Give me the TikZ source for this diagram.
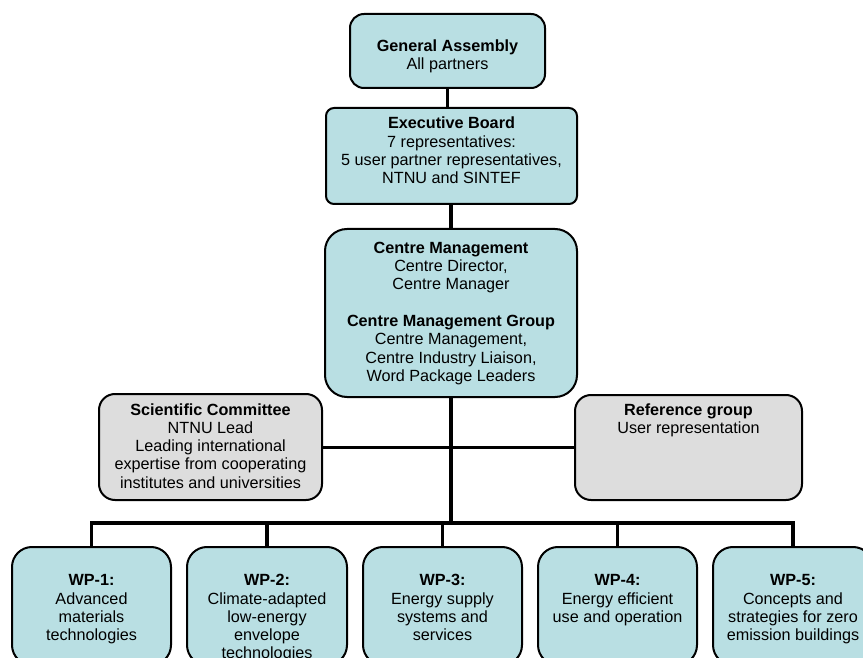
\documentclass[tikz,border=0pt]{standalone}
\usepackage{fontspec}
\setmainfont{Liberation Sans}
\usetikzlibrary{calc}
\definecolor{tealfill}{HTML}{B9DFE3}
\definecolor{greyfill}{HTML}{DDDDDD}
\newcommand{\orgtxt}[1]{\parbox[t]{240pt}{\centering\fontsize{16.2}{18.3}\selectfont #1}}
\begin{document}
\begin{tikzpicture}[x=1pt,y=-1pt,
  box/.style={draw, line width=2pt, inner sep=0pt},
  tealbox/.style={box, fill=tealfill},
  greybox/.style={box, fill=greyfill},
  wpbox/.style={tealbox, rounded corners=20pt, minimum width=159pt, minimum height=118pt},
  conn/.style={line width=3.6pt},
  txt/.style={anchor=base, inner sep=0pt}]
\useasboundingbox (0,0) rectangle (863,658);
\begin{scope}
\clip (0,0) rectangle (863,658);
% boxes
\node[tealbox, rounded corners=14pt, minimum width=195pt, minimum height=74pt] (ga) at (447.5,51) {};
\node[tealbox, rounded corners=8pt, minimum width=251pt, minimum height=96pt] (eb) at (451.5,156) {};
\node[tealbox, rounded corners=22pt, minimum width=252pt, minimum height=168pt] (cm) at (451,313) {};
\node[greybox, rounded corners=16pt, minimum width=223pt, minimum height=106pt] (sc) at (210.5,447) {};
\node[greybox, rounded corners=16pt, minimum width=227pt, minimum height=105pt] (rg) at (688.5,447.5) {};
\node[wpbox] (wp1) at (91.5,606) {};
\node[wpbox, minimum width=160pt] (wp2) at (267,606) {};
\node[wpbox] (wp3) at (442.5,606) {};
\node[wpbox] (wp4) at (617.5,606) {};
\node[wpbox, minimum width=160pt] (wp5) at (793,606) {};
% texts
\node[txt] (gat) at ($(ga.north)+(0,38.7)$) {\orgtxt{\textbf{General Assembly}\\All partners}};
\node[txt] (ebt) at ($(eb.north)+(0,22)$) {\orgtxt{\textbf{Executive Board}\\7 representatives:\\5 user partner representatives,\\NTNU and SINTEF}};
\node[txt] (cmt) at ($(cm.north)+(0,25.3)$) {\orgtxt{\textbf{Centre Management}\\Centre Director,\\Centre Manager\\[18.3pt]\textbf{Centre Management Group}\\Centre Management,\\Centre Industry Liaison,\\Word Package Leaders}};
\node[txt] (sct) at ($(sc.north)+(0,22)$) {\orgtxt{\textbf{Scientific Committee}\\NTNU Lead\\Leading international\\expertise from cooperating\\institutes and universities}};
\node[txt] (rgt) at ($(rg.north)+(0,21)$) {\orgtxt{\textbf{Reference group}\\User representation}};
\node[txt] (wp1t) at ($(wp1.north)+(0,39.7)$) {\orgtxt{\textbf{WP-1:}\\Advanced\\materials\\technologies}};
\node[txt] (wp2t) at ($(wp2.north)+(0,39.7)$) {\orgtxt{\textbf{WP-2:}\\Climate-adapted\\low-energy\\envelope\\technologies}};
\node[txt] (wp3t) at ($(wp3.north)+(0,39.7)$) {\orgtxt{\textbf{WP-3:}\\Energy supply\\systems and\\services}};
\node[txt] (wp4t) at ($(wp4.north)+(0,39.7)$) {\orgtxt{\textbf{WP-4:}\\Energy efficient\\use and operation}};
\node[txt] (wp5t) at ($(wp5.north)+(0,39.7)$) {\orgtxt{\textbf{WP-5:}\\Concepts and\\strategies for zero\\emission buildings}};
% connectors
\coordinate (bus) at (451,523);
\draw[conn] (ga.south) -- (ga.south |- eb.north);
\draw[conn] (eb.south -| cm.north) -- (cm.north);
\draw[conn, line width=3pt] (sc.east) -- (sc.east -| rg.west);
\draw[conn, line width=4pt] (cm.south) -- (bus);
\draw[conn] (wp1.north) |- (bus) -| (wp5.north);
\draw[conn] (wp2.north) -- (wp2.north |- bus);
\draw[conn] (wp3.north) -- (wp3.north |- bus);
\draw[conn] (wp4.north) -- (wp4.north |- bus);
\end{scope}
\end{tikzpicture}
\end{document}
